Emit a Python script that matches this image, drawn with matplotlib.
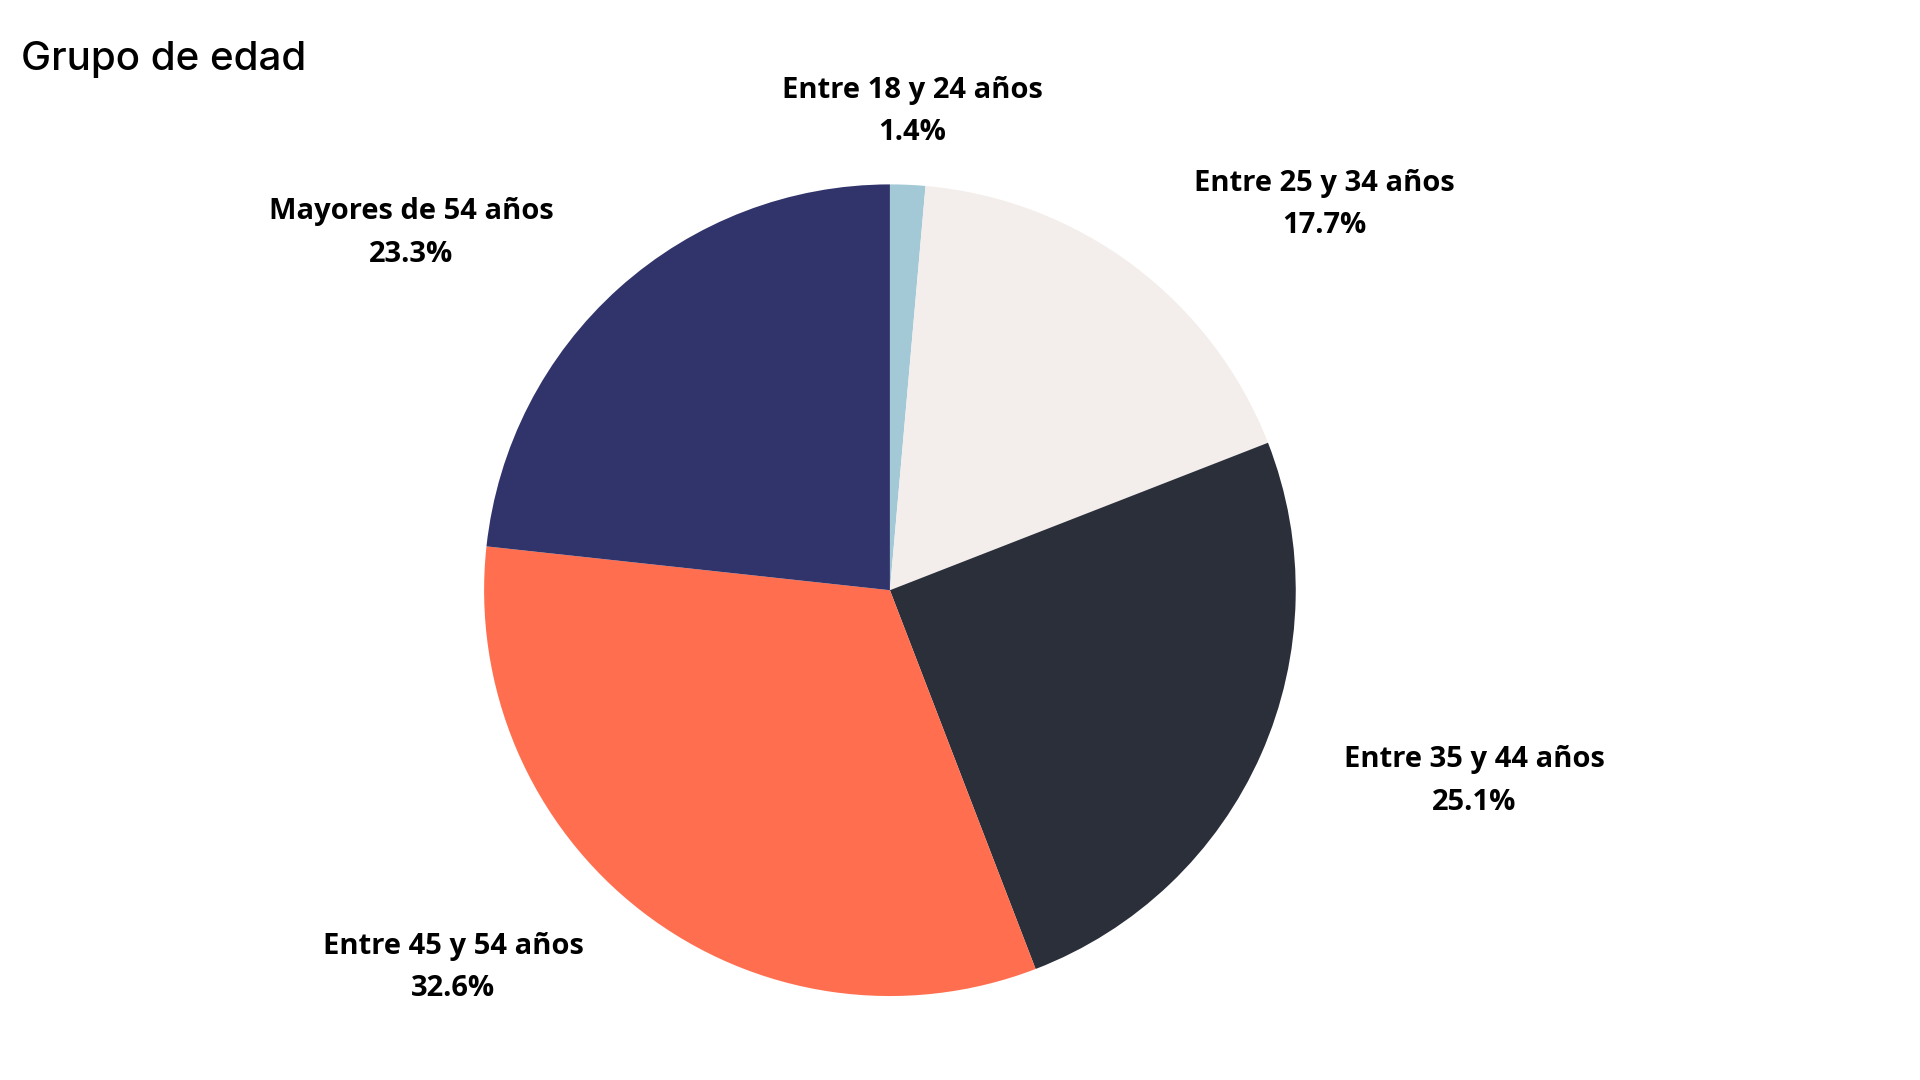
import matplotlib.pyplot as plt

# ---- DATA ----
labels = ["Entre 18 y 24 años", "Entre 25 y 34 años", "Entre 35 y 44 años",
          "Entre 45 y 54 años", "Mayores de 54 años"]
shares = [1.4, 17.7, 25.1, 32.6, 23.3]
colors = ["#a3c9d6", "#f3eeeb", "#2b2f3a", "#ff6e4f", "#31346b"]

# label anchor points in pie-radius units (layout)
label_pos = [(0.055, 1.18), (1.07, 0.95), (1.44, -0.47),
             (-1.076, -0.93), (-1.18, 0.88)]

fig = plt.figure(figsize=(19.2, 10.8), dpi=100)
ax = fig.add_axes([0.231, 0.04, 0.465, 0.827])

wedges, texts = ax.pie(
    shares, colors=colors, startangle=90, counterclock=False,
    labels=[f"{l}\n{v}%" for l, v in zip(labels, shares)],
    textprops=dict(fontsize=21, fontweight="bold", family="Open Sans",
                   linespacing=1.6),
)
for t, p in zip(texts, label_pos):
    t.set_position(p)
    t.set_horizontalalignment("center")
    t.set_verticalalignment("center")
    t.set_clip_on(False)

ax.set_xlim(-1.1, 1.1)
ax.set_ylim(-1.1, 1.1)
ax.set_aspect("equal")

fig.text(0.011, 0.945, "Grupo de edad", fontsize=29, family="Inter",
         fontweight="medium", ha="left", va="center")

fig.savefig("out.png", dpi=100, facecolor="white")
